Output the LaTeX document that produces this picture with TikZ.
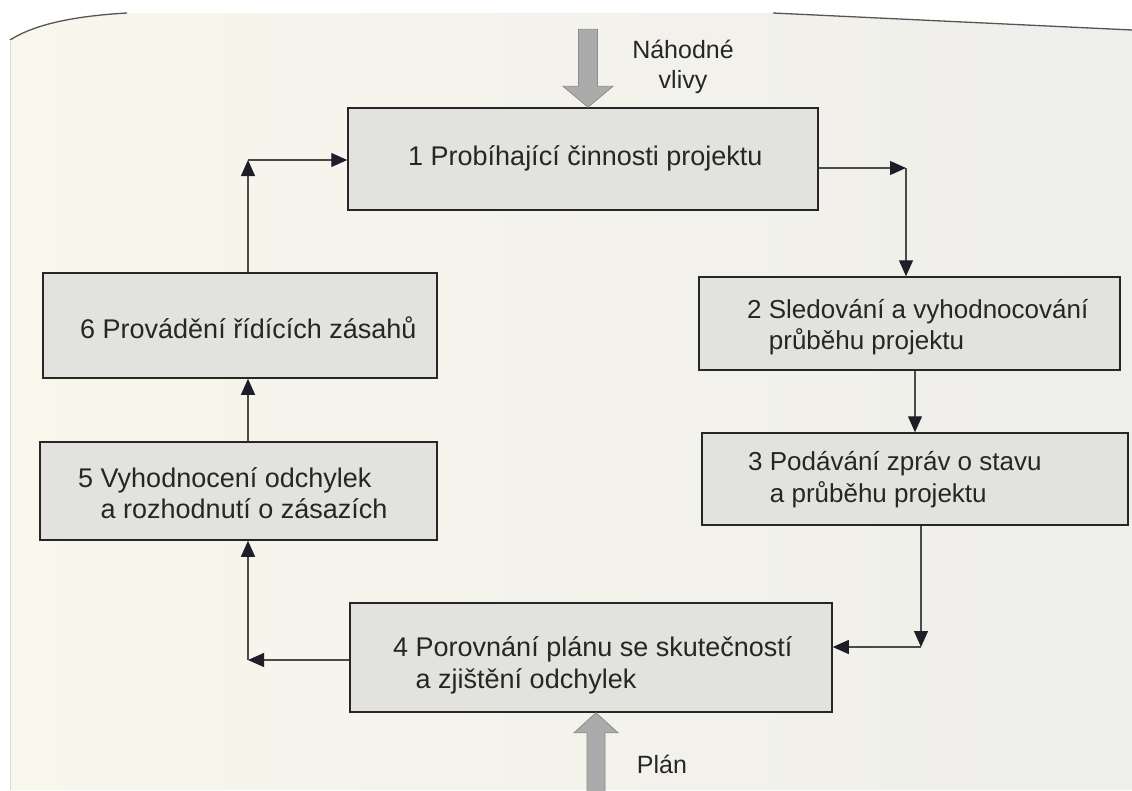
\documentclass[tikz,border=0pt]{standalone}
\usepackage{fontspec}
\setmainfont{Liberation Sans}
\usetikzlibrary{arrows.meta,calc}
\definecolor{pagecream}{HTML}{F9F6EC}
\definecolor{pagegrey}{HTML}{EEEEEB}
\definecolor{boxfill}{HTML}{E2E2DF}
\definecolor{ink}{HTML}{262626}
\definecolor{wire}{HTML}{4A4A4A}
\definecolor{tipcol}{HTML}{1E1E28}
\definecolor{bigfill}{HTML}{ABABAB}
\definecolor{bigedge}{HTML}{8C8C8C}
\definecolor{edge}{HTML}{555555}

\begin{document}
\begin{tikzpicture}[x=1pt,y=-1pt,
  stage/.style={draw=ink, line width=1.5pt, fill=boxfill, rectangle, inner sep=0pt},
  stagetext/.style={anchor=west, align=left, text=ink, inner sep=0pt,
                    font=\fontsize{27}{32}\selectfont},
  conn/.style={draw=wire, line width=1.2pt,
               -{Triangle[width=14pt,length=16pt,color=tipcol]}},
  bigarrow/.style={fill=bigfill, draw=bigedge, line width=0.8pt},
  note/.style={align=center, text=ink, inner sep=0pt,
               font=\fontsize{25}{30}\selectfont}]

\useasboundingbox (0,0) rectangle (1132,790);
\fill[white] (0,0) rectangle (1132,790);

% sheet of paper
\shade[left color=pagecream, right color=pagegrey]
  (10,790) -- (10,40) .. controls (35,24) and (75,16) .. (127,13)
  -- (773,13) -- (1132,30) -- (1132,790) -- cycle;
\draw[edge, line width=1.3pt] (10,40) .. controls (35,24) and (75,16) .. (127,13);
\draw[edge, line width=1.3pt] (773,13) -- (1132,30);
\draw[black!15, line width=0.6pt] (10,40) -- (10,790);

% stages of the control loop
\node[stage, minimum width=470pt, minimum height=102pt] (n1) at (583,159) {};
\node[stage, minimum width=421pt, minimum height=93pt]  (n2) at (909.5,323.5) {};
\node[stage, minimum width=426pt, minimum height=92pt]  (n3) at (915,479) {};
\node[stage, minimum width=482pt, minimum height=109pt] (n4) at (591,657.5) {};
\node[stage, minimum width=397pt, minimum height=98pt]  (n5) at (238.5,491) {};
\node[stage, minimum width=394pt, minimum height=105pt] (n6) at (240,325.5) {};

\node[stagetext] (t1) at (408,158) {1 Probíhající činnosti projektu};
\node[stagetext, font=\fontsize{26}{31}\selectfont] (t2) at (747,327)
  {2 Sledování a vyhodnocování\\\phantom{2 }průběhu projektu};
\node[stagetext, font=\fontsize{26}{32}\selectfont] (t3) at (748,480)
  {3 Podávání zpráv o stavu\\\phantom{3 }a průběhu projektu};
\node[stagetext] (t4) at (393,665)
  {4 Porovnání plánu se skutečností\\\phantom{4 }a zjištění odchylek};
\node[stagetext, font=\fontsize{27}{31}\selectfont] (t5) at (78,493)
  {5 Vyhodnocení odchylek\\\phantom{5 }a rozhodnutí o zásazích};
\node[stagetext] (t6) at (80,328) {6 Provádění řídících zásahů};

% connector corners
\coordinate (c61) at (248,160);
\coordinate (c12) at (906,168);
\coordinate (c23) at (915,400);
\coordinate (c34) at (921,647);
\coordinate (c45) at (248,660);

\draw[conn] (n6.north -| c61) -- (c61);
\draw[conn] (c61) -- (c61 -| n1.west);
\draw[conn] (c12 -| n1.east) -- (c12);
\draw[conn] (c12) -- (c12 |- n2.north);
\draw[conn] (c23 |- n2.south) -- (c23 |- n3.north);
\draw[conn] (c34 |- n3.south) -- (c34);
\draw[conn] (c34) -- (c34 -| n4.east);
\draw[conn] (c45 -| n4.west) -- (c45);
\draw[conn] (c45) -- (c45 |- n5.south);
\draw[conn] (c45 |- n5.north) -- (c45 |- n6.south);

% external inputs
\coordinate (rtop) at (588,30);
\coordinate (rtip) at (rtop |- n1.north);
\filldraw[bigarrow] (rtip) -- ++(25,-21) -- ++(-15.5,0) -- ++(0,-57)
  -- ++(-19,0) -- ++(0,57) -- ++(-15.5,0) -- cycle;

\coordinate (pbot) at (596,795);
\coordinate (ptip) at (pbot |- n4.south);
\filldraw[bigarrow] (ptip) -- ++(22,20) -- ++(-13,0) -- ++(0,63)
  -- ++(-18,0) -- ++(0,-63) -- ++(-13,0) -- cycle;

\node[note] (lblN) at (683,67) {Náhodné\\vlivy};
\node[note] (lblP) at (662,764) {Plán};

\end{tikzpicture}
\end{document}
